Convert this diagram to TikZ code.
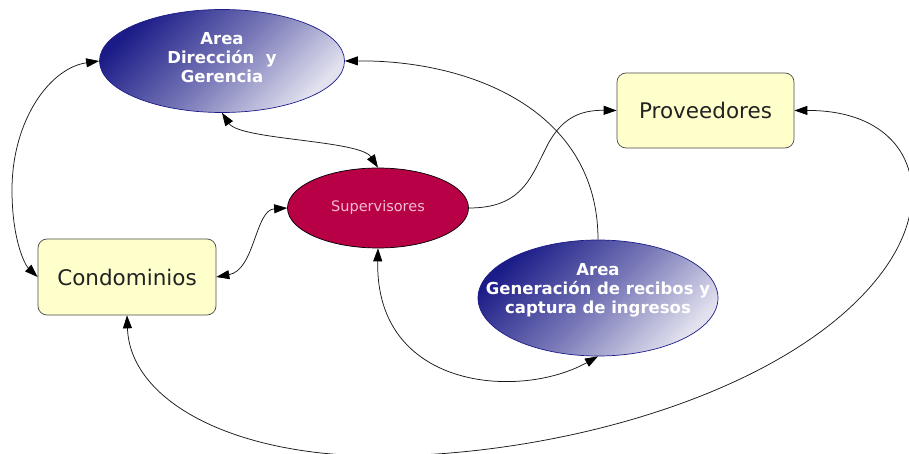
\documentclass[tikz,border=0pt]{standalone}
\usepackage{fontspec}
\setmainfont{DejaVu Sans}
\usetikzlibrary{shapes.geometric,arrows.meta}
\definecolor{navyd}{HTML}{1C1C88}
\definecolor{lavl}{HTML}{E2E2EF}
\definecolor{crim}{HTML}{B80046}
\definecolor{pinkt}{HTML}{F4BCD2}
\definecolor{boxf}{HTML}{FFFFCC}
\definecolor{boxd}{HTML}{4A4A4A}
\definecolor{txtd}{HTML}{222222}
\begin{document}
\begin{tikzpicture}[x=1pt,y=-1pt,
  areashape/.style={ellipse, draw=navyd, line width=0.7pt, top color=navyd, bottom color=lavl, middle color=navyd!55!lavl, shading angle=45, inner sep=0pt},
  areatext/.style={text=white, font=\fontsize{16.5}{19}\selectfont\bfseries, align=center, inner sep=0pt},
  supshape/.style={ellipse, draw=black, line width=0.7pt, fill=crim, inner sep=0pt, text=pinkt, font=\fontsize{14.5}{17}\selectfont},
  yellowbox/.style={draw=boxd, line width=0.7pt, fill=boxf, rounded corners=9pt, inner sep=0pt, text=txtd, font=\fontsize{21.5}{25}\selectfont},
  conn/.style={draw=black!90, line width=0.75pt},
  tipone/.style={-{Triangle[length=13pt,width=9pt,color=black]}},
  tipboth/.style={{Triangle[length=13pt,width=9pt,color=black]}-{Triangle[length=13pt,width=9pt,color=black]}}
]
\useasboundingbox (0,0) rectangle (909,454);

% nodes
\node[areashape, minimum width=245pt, minimum height=103pt] (ad) at (222,61) {};
\node[areatext] (adt) at (222,58) {Area\\Dirección\ \ y\\Gerencia};
\node[supshape, minimum width=181pt, minimum height=80pt] (sup) at (378,208) {Supervisores};
\node[yellowbox, minimum width=177pt, minimum height=75pt] (prov) at (705.5,110.5) {Proveedores};
\node[yellowbox, minimum width=178pt, minimum height=76pt] (cond) at (127,277) {Condominios};
\node[areashape, minimum width=240pt, minimum height=116pt] (gen) at (598,298) {};
\node[areatext] (gent) at (598,290) {Area\\Generación de recibos y\\captura de ingresos};

% connectors
\draw[conn, tipboth] (ad.west) .. controls (50,68) and (12,120) .. (12,190)
   .. controls (12,240) and (25,265) .. (cond.west);
\draw[conn, tipboth] (ad.south) .. controls (240,140) and (360,140) .. (sup.north);
\draw[conn, tipone] (gen.north) .. controls (598,110) and (470,60) .. (ad.east);
\draw[conn, tipone] (sup.east) .. controls (520,208) and (530,180) .. (545,150)
   .. controls (560,118) and (580,110) .. (prov.west);
\draw[conn, tipboth] (sup.west) .. controls (255,210) and (255,270) .. (cond.east);
\draw[conn, tipboth] (sup.south) .. controls (375,390) and (520,400) .. (gen.south);
\draw[conn, tipboth] (cond.south) .. controls (130,400) and (230,455) .. (375,456)
   .. controls (560,457) and (790,392) .. (880,275)
   .. controls (942,195) and (912,110) .. (prov.east);
\end{tikzpicture}
\end{document}
